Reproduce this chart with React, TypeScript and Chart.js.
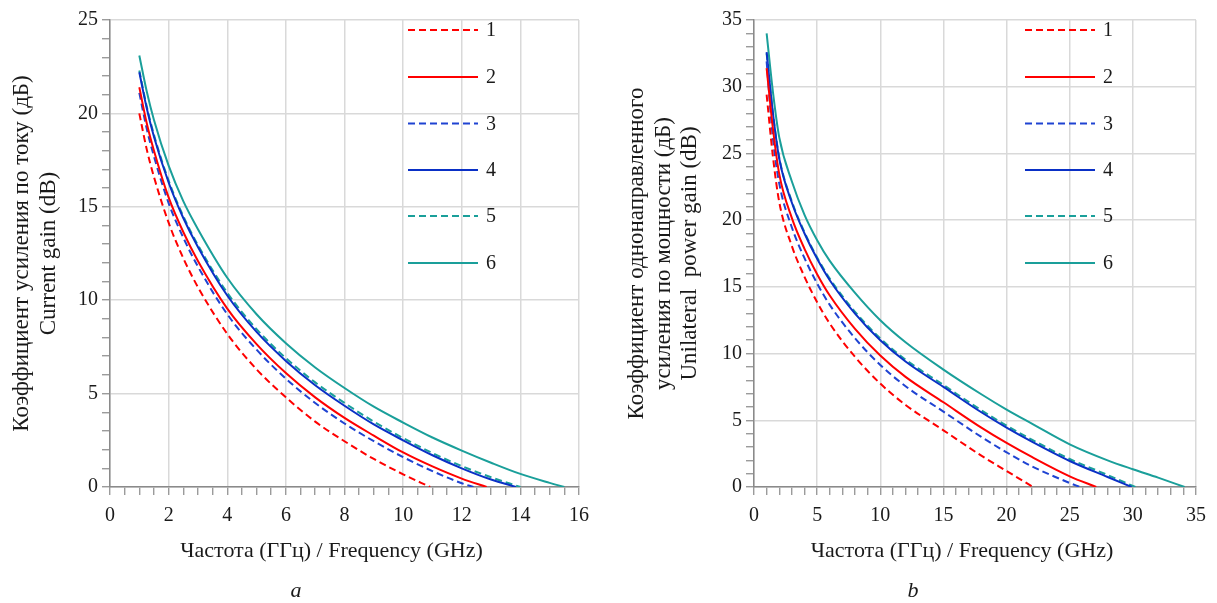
import React, { useEffect, useRef } from "react";
import { Chart, registerables } from "chart.js";

Chart.register(...registerables);

// ---------- series meta ----------
const seriesLabels = ["1", "2", "3", "4", "5", "6"];
const seriesColors = ["#ff0000", "#ff0000", "#1f43d2", "#0a30c6", "#1a9f9a", "#1a9f9a"];
const seriesDashed = [true, false, true, false, true, false];

// ---------- chart a: current gain ----------
const freqA = [1, 1.25, 1.5, 2, 2.5, 3, 4, 5, 6, 7, 8, 9, 10, 11, 12, 13, 14, 15];
const gainA1 = [20.0, 18.1, 16.6, 14.15, 12.25, 10.7, 8.2, 6.3, 4.8, 3.5, 2.45, 1.5, 0.68];
const gainA2 = [21.4, 19.5, 18.0, 15.5, 13.65, 12.1, 9.55, 7.65, 6.1, 4.8, 3.7, 2.75, 1.85, 1.1, 0.45];
const gainA3 = [21.1, 19.2, 17.7, 15.2, 13.35, 11.8, 9.25, 7.35, 5.8, 4.5, 3.4, 2.45, 1.6, 0.85, 0.2];
const gainA4 = [22.2, 20.3, 18.75, 16.3, 14.4, 12.85, 10.25, 8.3, 6.75, 5.45, 4.35, 3.35, 2.5, 1.7, 1.0, 0.4];
const gainA5 = [22.3, 20.4, 18.85, 16.4, 14.5, 12.95, 10.4, 8.45, 6.9, 5.6, 4.5, 3.5, 2.62, 1.82, 1.12, 0.52];
const gainA6 = [23.1, 21.2, 19.65, 17.2, 15.3, 13.8, 11.2, 9.25, 7.7, 6.4, 5.3, 4.3, 3.45, 2.65, 1.95, 1.3, 0.7, 0.22];
const zeroCrossA = [10.92, 12.85, 12.4, 13.85, 14.0, 15.5];

// ---------- chart b: unilateral power gain ----------
const freqB = [1, 1.5, 2, 3, 4, 5, 6, 8, 10, 12, 15, 18, 20, 22, 25, 28, 30, 32];
const gainB1 = [29.4, 24.75, 21.35, 18.05, 15.75, 13.85, 12.25, 9.75, 7.75, 6.15, 4.25, 2.35, 1.2];
const gainB2 = [31.4, 26.85, 23.45, 20.15, 17.85, 15.95, 14.35, 11.85, 9.85, 8.25, 6.35, 4.45, 3.3, 2.25, 0.8];
const gainB3 = [31.9, 26.1, 22.75, 19.45, 17.15, 15.25, 13.65, 11.15, 9.15, 7.55, 5.65, 3.75, 2.6, 1.55, 0.3];
const gainB4 = [32.6, 28.0, 24.6, 21.3, 19.0, 17.1, 15.5, 13.0, 11.0, 9.4, 7.5, 5.6, 4.45, 3.4, 1.95, 0.75];
const gainB5 = [32.5, 28.0, 24.7, 21.4, 19.1, 17.2, 15.62, 13.13, 11.14, 9.55, 7.65, 5.75, 4.6, 3.55, 2.1, 0.9];
const gainB6 = [34.0, 29.6, 26.2, 22.9, 20.4, 18.5, 16.95, 14.55, 12.5, 10.85, 8.8, 6.95, 5.8, 4.75, 3.2, 2.0, 1.33, 0.7];
const zeroCrossB = [22.1, 27.1, 25.8, 29.9, 30.2, 34.1];

// ---------- axes / text ----------
const xTitle = "Частота (ГГц) / Frequency (GHz)";
const yTitleA = ["Коэффициент усиления по току (дБ)", "Current gain (dB)"];
const yTitleB = ["Коэффициент однонаправленного", "усиления по мощности (дБ)", "Unilateral  power gain (dB)"];
const axisA = { xMax: 16, xStep: 0.5, xLabelEvery: 2, yMax: 25, yStep: 1, yLabelEvery: 5 };
const axisB = { xMax: 35, xStep: 1, xLabelEvery: 5, yMax: 35, yStep: 1, yLabelEvery: 5 };

// ---------- styles ----------
const FONT = '"Liberation Serif", "Times New Roman", serif';
const TEXT = "#1a1a1a";
const GRID = "#d9d9d9";
const AXIS = "#8a8a8a";
const LEGEND_ROWS = [10, 57, 103.5, 150, 196, 243];

function toPoints(freq: number[], gains: number[], end: number) {
  return gains.map((g, i) => ({ x: freq[i], y: g })).concat([{ x: end, y: 0 }]);
}

function isMajor(v: any, every: number) {
  if (typeof v !== "number") return false;
  const r = v / every;
  return Math.abs(r - Math.round(r)) < 1e-6;
}

const insideLegend = {
  id: "insideLegend",
  afterDraw(chart: any) {
    const { ctx, chartArea } = chart;
    ctx.save();
    chart.data.datasets.forEach((ds: any, i: number) => {
      const y = chartArea.top + LEGEND_ROWS[i];
      const x0 = chartArea.right - 171;
      ctx.beginPath();
      ctx.setLineDash(ds.borderDash || []);
      ctx.strokeStyle = ds.borderColor;
      ctx.lineWidth = ds.borderWidth;
      ctx.moveTo(x0, y);
      ctx.lineTo(x0 + 70, y);
      ctx.stroke();
      ctx.setLineDash([]);
      ctx.fillStyle = TEXT;
      ctx.font = `20px ${FONT}`;
      ctx.textAlign = "left";
      ctx.textBaseline = "middle";
      ctx.fillText(ds.label, x0 + 78, y + 1);
    });
    // x-axis title
    ctx.fillStyle = TEXT;
    ctx.font = `22px ${FONT}`;
    ctx.textAlign = "center";
    ctx.textBaseline = "middle";
    ctx.fillText(xTitle, (chartArea.left + chartArea.right) / 2 - 13, chartArea.bottom + 64);
    ctx.restore();
  },
};

function buildConfig(p: any) {
  return {
    type: "line",
    data: {
      datasets: p.series.map((g: number[], i: number) => ({
        label: seriesLabels[i],
        data: toPoints(p.freq, g, p.ends[i]),
        borderColor: seriesColors[i],
        backgroundColor: seriesColors[i],
        borderWidth: 2,
        borderDash: seriesDashed[i] ? [7, 4] : [],
        pointRadius: 0,
        cubicInterpolationMode: "monotone",
        fill: false,
      })),
    },
    options: {
      responsive: false,
      animation: false,
      devicePixelRatio: 1,
      layout: { padding: { top: 20, right: 21, bottom: 39, left: 0 } },
      plugins: { legend: { display: false }, tooltip: { enabled: false } },
      scales: {
        x: {
          type: "linear",
          min: 0,
          max: p.axis.xMax,
          afterFit: (s: any) => {
            s.height = 77;
          },
          ticks: {
            stepSize: p.axis.xStep,
            autoSkip: false,
            maxRotation: 0,
            padding: 9,
            color: TEXT,
            font: { family: FONT, size: 20 },
            callback: (v: any) => (isMajor(v, p.axis.xLabelEvery) ? String(v) : ""),
          },
          grid: {
            color: (c: any) => (isMajor(c.tick && c.tick.value, p.axis.xLabelEvery) ? GRID : "rgba(0,0,0,0)"),
            lineWidth: 1.5,
            tickColor: AXIS,
            tickLength: 8,
            tickWidth: 1.2,
          },
          border: { color: AXIS, width: 1.5 },
          title: { display: false },
        },
        y: {
          type: "linear",
          min: 0,
          max: p.axis.yMax,
          afterFit: (s: any) => {
            s.width = p.yWidth;
          },
          ticks: {
            stepSize: p.axis.yStep,
            autoSkip: false,
            padding: 4,
            color: TEXT,
            font: { family: FONT, size: 20 },
            callback: (v: any) => (isMajor(v, p.axis.yLabelEvery) ? String(v) : ""),
          },
          grid: {
            color: (c: any) => (isMajor(c.tick && c.tick.value, p.axis.yLabelEvery) ? GRID : "rgba(0,0,0,0)"),
            lineWidth: 1.5,
            tickColor: AXIS,
            tickLength: 8,
            tickWidth: 1.2,
          },
          border: { color: AXIS, width: 1.5 },
          title: {
            display: true,
            text: p.yTitle,
            color: TEXT,
            font: { family: FONT, size: 23, lineHeight: p.yLineHeight },
            padding: { top: p.yTitlePad, bottom: 0 },
          },
        },
      },
    },
    plugins: [insideLegend],
  };
}

function ChartCanvas({ params, left }: { params: any; left: number }) {
  const ref = useRef<HTMLCanvasElement | null>(null);
  useEffect(() => {
    if (!ref.current) return;
    const chart = new Chart(ref.current, buildConfig(params) as any);
    return () => chart.destroy();
  }, []);
  return (
    <canvas
      ref={ref}
      width={600}
      height={603}
      style={{ position: "absolute", left, top: 0, width: 600, height: 603 }}
    />
  );
}

const paramsA = {
  freq: freqA,
  series: [gainA1, gainA2, gainA3, gainA4, gainA5, gainA6],
  ends: zeroCrossA,
  axis: axisA,
  yTitle: yTitleA,
  yWidth: 110,
  yLineHeight: 27 / 23,
  yTitlePad: 8.5,
};

const paramsB = {
  freq: freqB,
  series: [gainB1, gainB2, gainB3, gainB4, gainB5, gainB6],
  ends: zeroCrossB,
  axis: axisB,
  yTitle: yTitleB,
  yWidth: 137,
  yLineHeight: 26.5 / 23,
  yTitlePad: 6.75,
};

const captionStyle: React.CSSProperties = {
  position: "absolute",
  top: 576,
  width: 40,
  marginLeft: -20,
  textAlign: "center",
  font: `italic 22px ${FONT}`,
  color: TEXT,
  lineHeight: "28px",
};

export default function App() {
  return (
    <div style={{ position: "absolute", left: 0, top: 0, width: 1217, height: 603, background: "#fff", overflow: "hidden" }}>
      <ChartCanvas params={paramsA} left={0} />
      <ChartCanvas params={paramsB} left={617} />
      <div style={{ ...captionStyle, left: 296 }}>a</div>
      <div style={{ ...captionStyle, left: 913 }}>b</div>
    </div>
  );
}
